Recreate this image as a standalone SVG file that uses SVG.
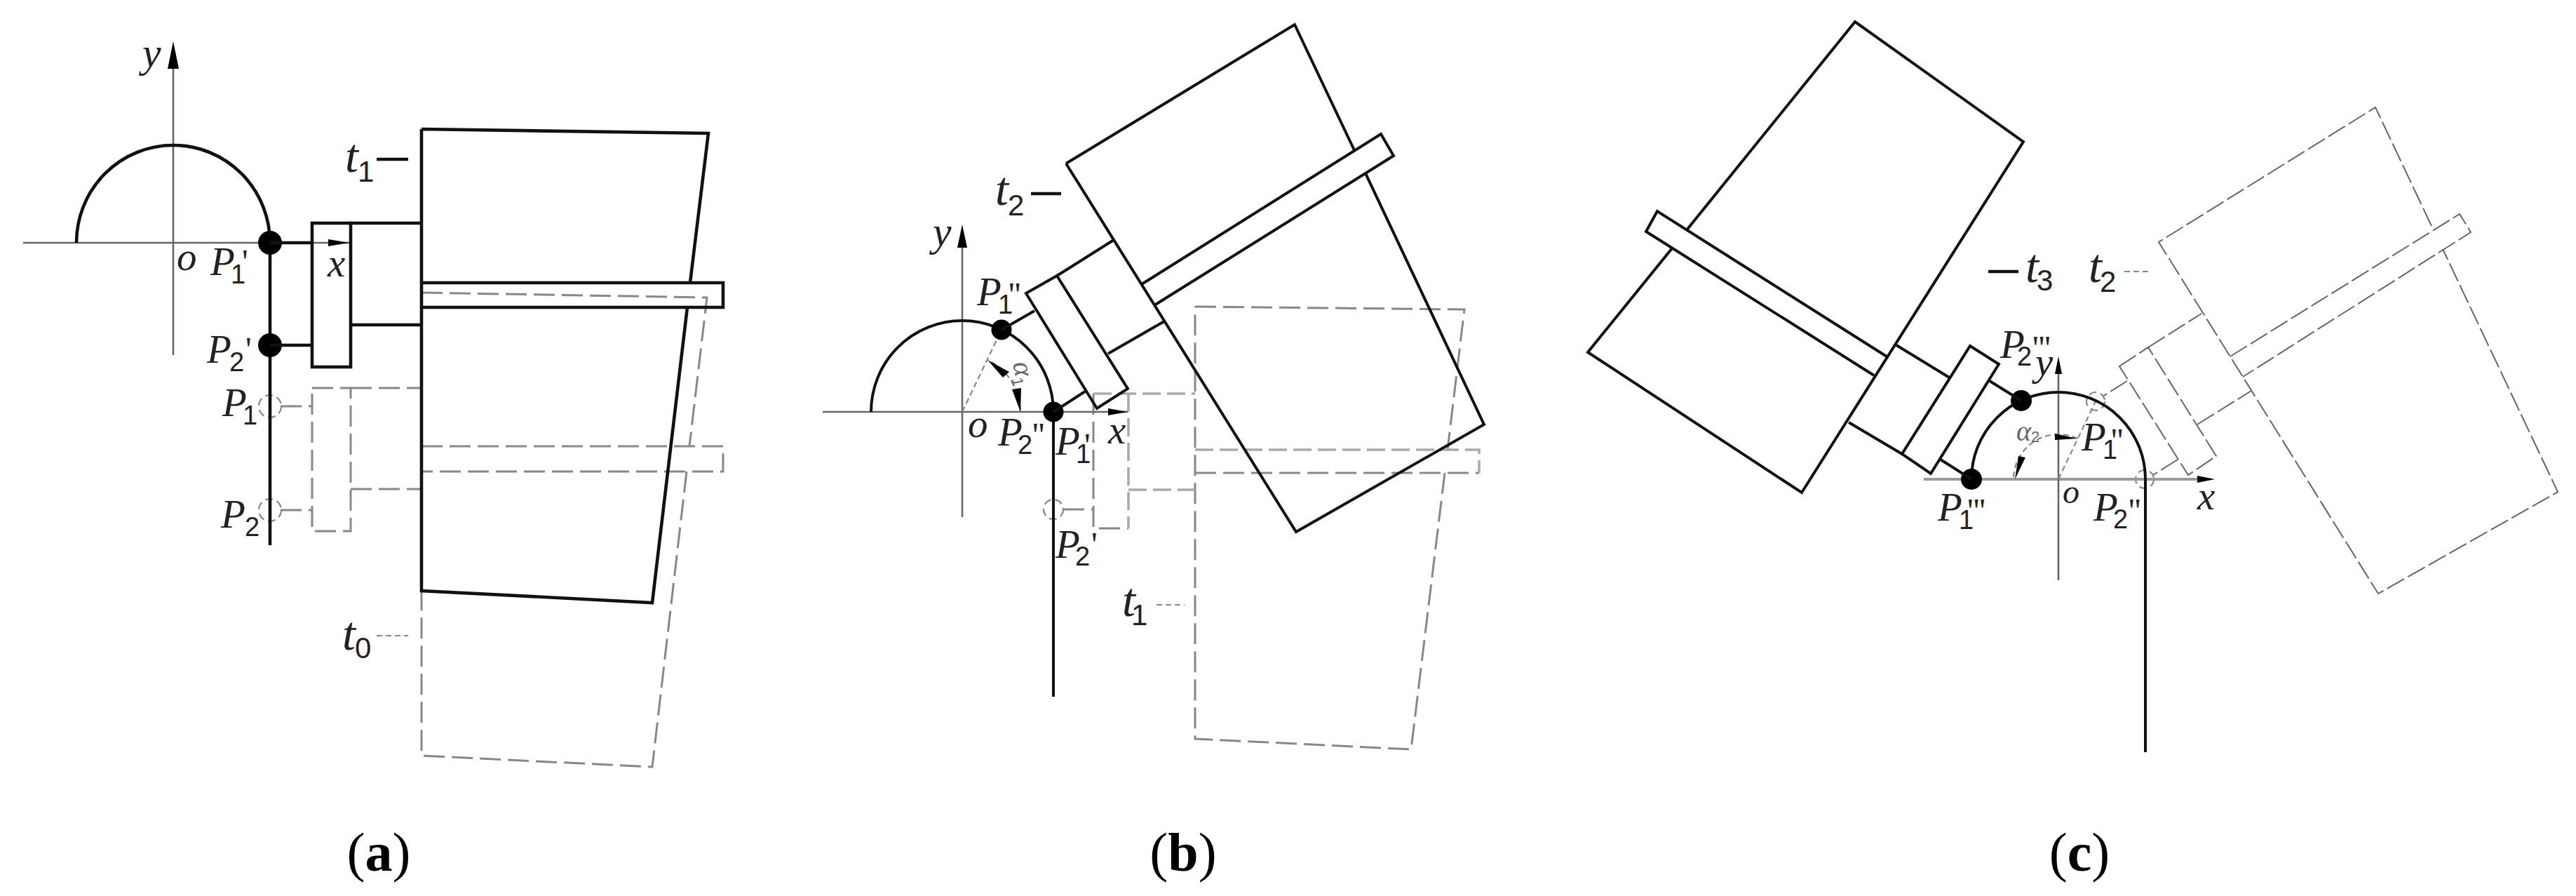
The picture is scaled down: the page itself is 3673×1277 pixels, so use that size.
<svg xmlns="http://www.w3.org/2000/svg" width="3673" height="1277" viewBox="0 0 3673 1277">
<style>
.bg{fill:#fff}
.k{fill:none;stroke:#111;stroke-width:4.6;stroke-linejoin:miter}
.k3{fill:none;stroke:#111;stroke-width:4;stroke-linejoin:miter}
.ax{fill:none;stroke:#666;stroke-width:2.6}
.axc{fill:none;stroke:#999;stroke-width:4}
.d{fill:none;stroke:#888;stroke-width:3;stroke-dasharray:30 10}
.dl{fill:none;stroke:#aaa;stroke-width:3.6;stroke-dasharray:26 9}
.dt{fill:none;stroke:#666;stroke-width:2;stroke-dasharray:28 6}
.dc{fill:none;stroke:#888;stroke-width:2.2;stroke-dasharray:11 6}
.dp{fill:none;stroke:#888;stroke-width:2.2;stroke-dasharray:8 5}
.f{fill:#000;stroke:none}
.i{font-family:"Liberation Serif",serif;font-style:italic;font-size:57px;fill:#222}
.t{font-size:68px}
.s{font-family:"Liberation Sans",sans-serif;font-style:normal;font-size:38px}
.st{font-family:"Liberation Sans",sans-serif;font-style:normal;font-size:42px}
.p{font-family:"Liberation Serif",serif;font-style:normal;font-size:48px}
.g{font-family:"Liberation Serif",serif;font-style:italic;font-size:40px;fill:#666}
.gs{font-family:"Liberation Sans",sans-serif;font-style:normal;font-size:22px}
.c{font-family:"Liberation Serif",serif;font-size:78px;fill:#000;text-anchor:middle}
.b{font-weight:bold}
</style>
<rect class="bg" width="3673" height="1277"/>

<g id="panel-a">
  <g id="a-ghost-t0">
    <path class="d" d="M601 417L1008 424L983 636M979 672L930 1093L601 1077L601 842"/>
    <path class="d" d="M601 636H1031V672H601"/>
    <rect class="d" x="445" y="553" width="55" height="204"/>
    <path class="d" d="M500 553H601M500 697H601M400 579H445M400 727H445"/>
    <circle class="dc" cx="385" cy="579" r="16"/>
    <circle class="dc" cx="385" cy="727" r="16"/>
    <path class="dp" d="M537 906H582"/>
  </g>
  <g id="a-axes">
    <path class="ax" d="M33 346H498M247 90V506"/>
    <polygon class="f" points="247,59 239,98 255,98"/>
    <polygon class="f" points="498,346 468,341 468,351"/>
  </g>
  <g id="a-strip">
    <path class="k" d="M109 346A138 139 0 0 1 385 346V777"/>
    <circle class="f" cx="385" cy="346" r="17"/>
    <circle class="f" cx="385" cy="492" r="17"/>
  </g>
  <g id="a-t1">
    <path class="k" d="M385 346H445M385 492H445"/>
    <rect class="k" x="445" y="318" width="55" height="205"/>
    <path class="k" d="M500 318H601M500 463H601"/>
    <path class="k" d="M601 184V842L930 859L980 438M984 403L1010 190L601 184"/>
    <path class="k" d="M601 403H1031V438H601"/>
    <path class="k" d="M537 227H582"/>
  </g>
  <g id="a-labels">
    <text class="i" x="203" y="95" style="font-size:60px">y</text>
    <text class="i" x="252" y="385">o</text>
    <text class="i" x="467" y="394">x</text>
    <text class="i"><tspan x="300" y="392">P</tspan><tspan class="s" x="329" y="404">1</tspan><tspan class="p" x="345" y="389">'</tspan></text>
    <text class="i"><tspan x="295" y="517">P</tspan><tspan class="s" x="327" y="529">2</tspan><tspan class="p" x="350" y="514">'</tspan></text>
    <text class="i"><tspan x="317" y="593">P</tspan><tspan class="s" x="346" y="605">1</tspan></text>
    <text class="i"><tspan x="315" y="752">P</tspan><tspan class="s" x="349" y="764">2</tspan></text>
    <text class="i t"><tspan x="492" y="245">t</tspan><tspan class="st" x="510" y="259">1</tspan></text>
    <text class="i t"><tspan x="488" y="926">t</tspan><tspan class="st" x="506" y="938">0</tspan></text>
    <text class="c" x="540" y="1241">(<tspan class="b">a</tspan>)</text>
  </g>
</g>

<g id="panel-b">
  <g id="b-ghost-t1">
    <path class="d" d="M1704 437L2088 441L2064 641M2060 674L2012 1068L1704 1053V437"/>
    <path class="d" d="M1704 674H2109"/>
    <path class="dl" d="M1704 641H2109V674"/>
    <path class="d" d="M1559 561V753H1609"/>
    <path class="dl" d="M1559 561H1704M1609 561V753M1609 698H1704"/>
    <path class="d" d="M1516 726H1559"/>
    <circle class="dc" cx="1502" cy="726" r="14"/>
    <path class="dp" d="M1649 862H1689"/>
  </g>
  <g id="b-axes">
    <path class="ax" d="M1173 587H1608M1372 345V737"/>
    <polygon class="f" points="1372,320 1365,353 1379,353"/>
    <polygon class="f" points="1608,587 1580,582 1580,592"/>
    <path class="dp" d="M1372 587L1428 470"/>
    <path class="dp" d="M1455 587A83 83 0 0 0 1408 513"/>
    <polygon class="f" points="1455,587 1443,555 1456,553"/>
    <polygon class="f" points="1408,513 1430,538 1439,530"/>
  </g>
  <g id="b-strip">
    <path class="k3" d="M1242 587A130 130 0 0 1 1502 587V993"/>
    <circle class="f" cx="1428" cy="470" r="14.5"/>
    <circle class="f" cx="1502" cy="587" r="14.5"/>
  </g>
  <g id="b-t2">
    <path class="k3" d="M1428 470L1475 443M1502 587L1547 558"/>
    <path class="k3" d="M1463 418L1507 393L1608 554L1564 582Z"/>
    <path class="k3" d="M1507 393L1588 342M1580 504L1660 458"/>
    <path class="k3" d="M1520 233L1848 758L2116 605L1947 247M1931 214L1846 35L1520 233"/>
    <path class="k3" d="M1628 405L1969 191L1987 222L1646 435"/>
    <path class="k" d="M1470 276H1513"/>
  </g>
  <g id="b-labels">
    <text class="i" x="1330" y="350" style="font-size:60px">y</text>
    <text class="i" x="1380" y="623">o</text>
    <text class="i" x="1580" y="632">x</text>
    <text class="g" transform="translate(1444 518) rotate(78)">α<tspan class="gs" dy="6">1</tspan></text>
    <text class="i"><tspan x="1393" y="435">P</tspan><tspan class="s" x="1423" y="447">1</tspan><tspan class="p" x="1438" y="436">''</tspan></text>
    <text class="i"><tspan x="1423" y="635">P</tspan><tspan class="s" x="1451" y="647">2</tspan><tspan class="p" x="1472" y="636">''</tspan></text>
    <text class="i"><tspan x="1505" y="648">P</tspan><tspan class="s" x="1534" y="660">1</tspan><tspan class="p" x="1546" y="651">'</tspan></text>
    <text class="i"><tspan x="1505" y="795">P</tspan><tspan class="s" x="1533" y="806">2</tspan><tspan class="p" x="1556" y="792">'</tspan></text>
    <text class="i t"><tspan x="1419" y="292">t</tspan><tspan class="st" x="1437" y="307">2</tspan></text>
    <text class="i t"><tspan x="1600" y="878">t</tspan><tspan class="st" x="1613" y="891">1</tspan></text>
    <text class="c" x="1687" y="1241">(<tspan class="b">b</tspan>)</text>
  </g>
</g>

<g id="panel-c">
  <g id="c-ghost-t2">
    <path class="dt" d="M3467 322L3387 153L3078 345L3391 846L3647 701L3483 355"/>
    <path class="dt" d="M3180 508L3507 305L3523 331L3198 537"/>
    <path class="dt" d="M3022 522L3063 495L3160 650L3120 677Z"/>
    <path class="dt" d="M3063 495L3139 447M3133 605L3210 557M3033 543L2998 565M3105 655L3070 677"/>
    <circle class="dc" cx="2988" cy="572" r="13"/>
    <circle class="dc" cx="3058" cy="683" r="13"/>
    <path class="dp" d="M3029 387H3065"/>
  </g>
  <g id="c-axes">
    <path class="axc" d="M2743 683H3133"/>
    <path class="ax" d="M2935 530V827"/>
    <polygon class="f" points="2935,508 2930,533 2940,533"/>
    <polygon class="f" points="3158,683 3133,678 3133,688"/>
    <path class="dp" d="M2935 683L2988 572"/>
    <path class="dp" d="M2962 625A64 64 0 0 0 2871 683"/>
    <polygon class="f" points="2962,625 2930,618 2930,627"/>
    <polygon class="f" points="2873,683 2878,650 2888,652"/>
  </g>
  <g id="c-strip">
    <path class="k3" d="M2811 683A124 124 0 0 1 3059 683V1072"/>
    <circle class="f" cx="2811" cy="683" r="15"/>
    <circle class="f" cx="2882" cy="571" r="15"/>
  </g>
  <g id="c-t3">
    <path class="k3" d="M2882 571L2837 543M2811 683L2767 655"/>
    <path class="k3" d="M2809 493L2850 519L2753 675L2712 647Z"/>
    <path class="k3" d="M2781 539L2704 492M2712 647L2636 602"/>
    <path class="k3" d="M2404 329L2645 31L2885 202L2569 702L2264 502L2384 354"/>
    <path class="k3" d="M2690 508L2363 301L2347 330L2672 535"/>
    <path class="k" d="M2835 387H2878"/>
  </g>
  <g id="c-labels">
    <text class="i" x="2902" y="535">y</text>
    <text class="i" x="2941" y="717" style="font-size:48px">o</text>
    <text class="i" x="3133" y="726">x</text>
    <text class="g" x="2875" y="628">α<tspan class="gs" dy="2">2</tspan></text>
    <text class="i"><tspan x="2852" y="510">P</tspan><tspan class="s" x="2876" y="521">2</tspan><tspan class="p" x="2898" y="512">'''</tspan></text>
    <text class="i"><tspan x="2968" y="642">P</tspan><tspan class="s" x="2998" y="654">1</tspan><tspan class="p" x="3010" y="644">''</tspan></text>
    <text class="i"><tspan x="2763" y="742">P</tspan><tspan class="s" x="2793" y="754">1</tspan><tspan class="p" x="2805" y="744">'''</tspan></text>
    <text class="i"><tspan x="2985" y="742">P</tspan><tspan class="s" x="3013" y="753">2</tspan><tspan class="p" x="3035" y="744">''</tspan></text>
    <text class="i t"><tspan x="2888" y="402">t</tspan><tspan class="st" x="2904" y="414">3</tspan></text>
    <text class="i t"><tspan x="2978" y="402">t</tspan><tspan class="st" x="2994" y="416">2</tspan></text>
    <text class="c" x="2965" y="1241">(<tspan class="b">c</tspan>)</text>
  </g>
</g>
</svg>
